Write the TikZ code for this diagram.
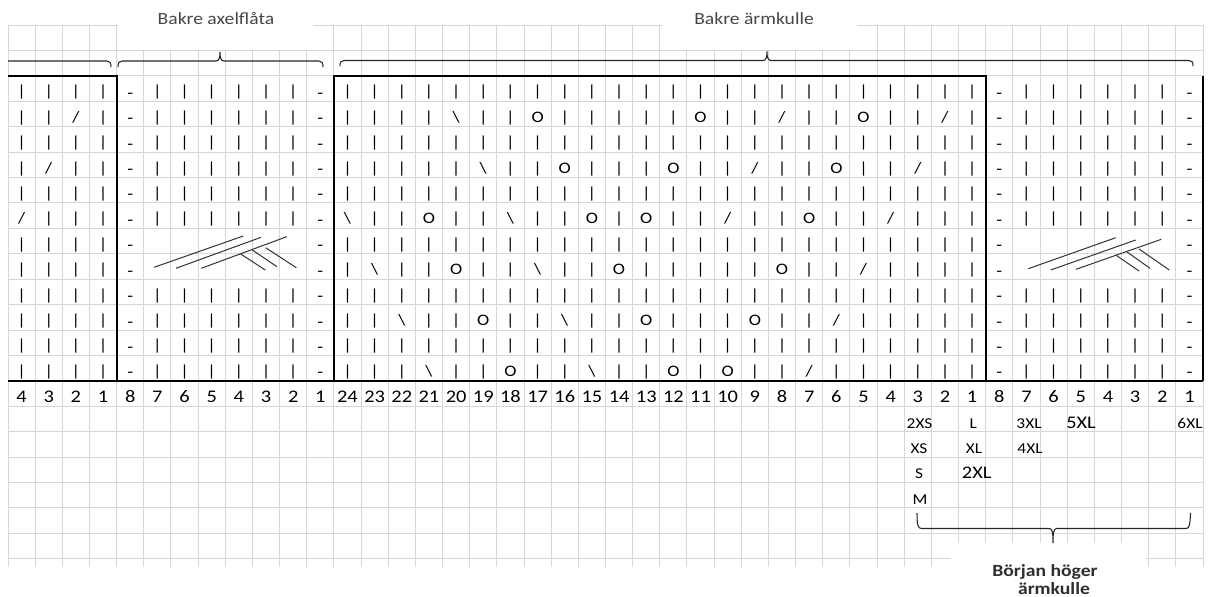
\documentclass[tikz,border=0pt]{standalone}
\usepackage{fontspec}
\setmainfont{Carlito}[FakeStretch=1.15]
\newcommand\symk{|}
\newcommand\symf{/}
\newcommand\symb{\textbackslash}
\newcommand\symo{O}
\tikzset{
  gridline/.style={draw=black!16, line width=0.75pt},
  thickline/.style={draw=black, line width=1.5pt},
  sym/.style={inner sep=0pt, anchor=base, font=\fontsize{12}{14}\selectfont, text=black},
  purl/.style={inner sep=0pt, anchor=base, font=\fontsize{12.5}{14}\selectfont, text=black},
  num/.style={inner sep=0pt, anchor=base, font=\fontsize{13.3}{15}\selectfont},
  szs/.style={inner sep=0pt, anchor=base, font=\fontsize{11.3}{13}\selectfont},
  szl/.style={inner sep=0pt, anchor=base, font=\fontsize{13.3}{15}\selectfont},
  title/.style={inner sep=0pt, anchor=base, font=\fontsize{12.8}{15}\selectfont, text=black!72},
  btitle/.style={inner sep=0pt, anchor=base, font=\bfseries\fontsize{12.8}{14}\selectfont, text=black!82},
  brace/.style={draw=black!85, line width=0.8pt},
  cable/.style={draw=black!80, line width=0.75pt},
  whitebox/.style={fill=white, draw=none}
}
\begin{document}
\begin{tikzpicture}[x=0.75pt, y=-0.75pt]
\useasboundingbox[fill=white] (0,0) rectangle (1209,596);
% grid
\foreach \i in {0,...,44} \draw[gridline] ({8+27.159*\i},25) -- ({8+27.159*\i},567);
\foreach \k in {0,...,21} \draw[gridline] (8,{25+25.42*\k}) -- (1203,{25+25.42*\k});
% label boxes
\fill[whitebox] (117.6,0) rectangle (313,49.8);
\fill[whitebox] (662,0) rectangle (857,49.8);
\fill[whitebox] (951,543) rectangle (1146,596);
% thick outlines
\draw[thickline] (8,75.84) -- (116.64,75.84) -- (116.64,380.9);
\draw[thickline] (333.91,380.9) -- (333.91,75.84) -- (985.72,75.84) -- (985.72,380.9);
\draw[thickline] (1203,75.84) -- (1203,380.9);
\draw[thickline] (8,380.9) -- (1203,380.9);
% titles
\node[title] (t1) at (216,24.5) {Bakre axelflåta};
\node[title] (t2) at (754,24.5) {Bakre ärmkulle};
\node[btitle] (t3) at (1045,576.5) {Början höger};
\node[btitle] (t4) at (1054,594) {ärmkulle};
% braces
\draw[brace] (8,61) -- (107,61) .. controls (110,61) and (111,63) .. (111,67);
\draw[brace] (118,67) .. controls (118,63) and (119,61) .. (122,61) -- (216,61)
  .. controls (219,61) and (220,58) .. (220,52) .. controls (220,58) and (221,61) .. (224,61)
  -- (319,61) .. controls (322,61) and (323,63) .. (323,67);
\draw[brace] (340,66) .. controls (340,62) and (341,60.5) .. (344,60.5) -- (763,60.5)
  .. controls (766,60.5) and (767,57.5) .. (767,51.5) .. controls (767,57.5) and (768,60.5) .. (771,60.5)
  -- (1189,60.5) .. controls (1192,60.5) and (1193,62) .. (1193,66);
\draw[brace] (917,513) .. controls (917,525) and (918,528.5) .. (921.5,528.5) -- (1049,528.5)
  .. controls (1052,528.5) and (1053,531) .. (1053,543) .. controls (1053,531) and (1054,528.5) .. (1057,528.5)
  -- (1186,528.5) .. controls (1189,528.5) and (1190,526) .. (1190.5,513);
% symbols: left section (cols 0-3) and big section (cols 12-35)
\foreach \r/\L in {
 0/{k,k,k,k, k,k,k,k,k,k,k,k,k,k,k,k,k,k,k,k,k,k,k,k,k,k,k,k},
 1/{k,k,f,k, k,k,k,k,b,k,k,o,k,k,k,k,k,o,k,k,f,k,k,o,k,k,f,k},
 2/{k,k,k,k, k,k,k,k,k,k,k,k,k,k,k,k,k,k,k,k,k,k,k,k,k,k,k,k},
 3/{k,f,k,k, k,k,k,k,k,b,k,k,o,k,k,k,o,k,k,f,k,k,o,k,k,f,k,k},
 4/{k,k,k,k, k,k,k,k,k,k,k,k,k,k,k,k,k,k,k,k,k,k,k,k,k,k,k,k},
 5/{f,k,k,k, b,k,k,o,k,k,b,k,k,o,k,o,k,k,f,k,k,o,k,k,f,k,k,k},
 6/{k,k,k,k, k,k,k,k,k,k,k,k,k,k,k,k,k,k,k,k,k,k,k,k,k,k,k,k},
 7/{k,k,k,k, k,b,k,k,o,k,k,b,k,k,o,k,k,k,k,k,o,k,k,f,k,k,k,k},
 8/{k,k,k,k, k,k,k,k,k,k,k,k,k,k,k,k,k,k,k,k,k,k,k,k,k,k,k,k},
 9/{k,k,k,k, k,k,b,k,k,o,k,k,b,k,k,o,k,k,k,o,k,k,f,k,k,k,k,k},
 10/{k,k,k,k, k,k,k,k,k,k,k,k,k,k,k,k,k,k,k,k,k,k,k,k,k,k,k,k},
 11/{k,k,k,k, k,k,k,b,k,k,o,k,k,b,k,k,o,k,o,k,k,f,k,k,k,k,k,k}} {
  \foreach[count=\j from 0] \s in \L {
    \pgfmathtruncatemacro{\i}{\j<4 ? \j : \j+8}
    \node[sym] (s-\r-\i) at ({21.58+27.159*\i},{25+25.42*(\r+3)-4.5}) {\csname sym\s\endcsname};
  }
}
% purl columns
\foreach \r in {0,...,11} \foreach \i in {4,11,36,43}
  \node[purl] (s-\r-\i) at ({21.58+27.159*\i},{25+25.42*(\r+3)-3}) {-};
% knit columns in cable panels
\foreach \r in {0,1,2,3,4,5,8,9,10,11} \foreach \i in {5,6,7,8,9,10,37,38,39,40,41,42}
  \node[sym] (s-\r-\i) at ({21.58+27.159*\i},{25+25.42*(\r+3)-4.5}) {|};
% cables
\draw[cable] (154,267.3) -- (243.3,236);
\draw[cable] (176,268.3) -- (261,237.3);
\draw[cable] (201.3,268.3) -- (286.7,236.7);
\draw[cable] (240.7,254) -- (265.3,270);
\draw[cable] (252.3,250) -- (277,266.7);
\draw[cable] (265.7,247.7) -- (296.3,267.7);
\draw[cable] (1028.3,268.7) -- (1115.7,237.7);
\draw[cable] (1050.7,270) -- (1135.7,240);
\draw[cable] (1076,269.3) -- (1161.3,239.3);
\draw[cable] (1115.7,255) -- (1139,271);
\draw[cable] (1126.7,251.7) -- (1150,268.3);
\draw[cable] (1139,249) -- (1169.3,270);
% column numbers
\foreach[count=\j from 0] \n in {4,3,2,1,8,7,6,5,4,3,2,1,24,23,22,21,20,19,18,17,16,15,14,13,12,11,10,9,8,7,6,5,4,3,2,1,8,7,6,5,4,3,2,1}
  \node[num] (n-\j) at ({21.58+27.159*\j},402.5) {\n};
% size labels
\node[szs] (z1) at (919.5,428) {2XS};
\node[szs] (z2) at (973.3,428) {L};
\node[szs] (z3) at (1029,428) {3XL};
\node[szl] (z4) at (1081,428) {5XL};
\node[szs] (z5) at (1190,428) {6XL};
\node[szs] (z6) at (919,453.3) {XS};
\node[szs] (z7) at (974,453.3) {XL};
\node[szs] (z8) at (1030,453.3) {4XL};
\node[szs] (z9) at (919,478.7) {S};
\node[szl] (z10) at (976.7,478.7) {2XL};
\node[szs] (z11) at (920,504.1) {M};
\end{tikzpicture}
\end{document}
